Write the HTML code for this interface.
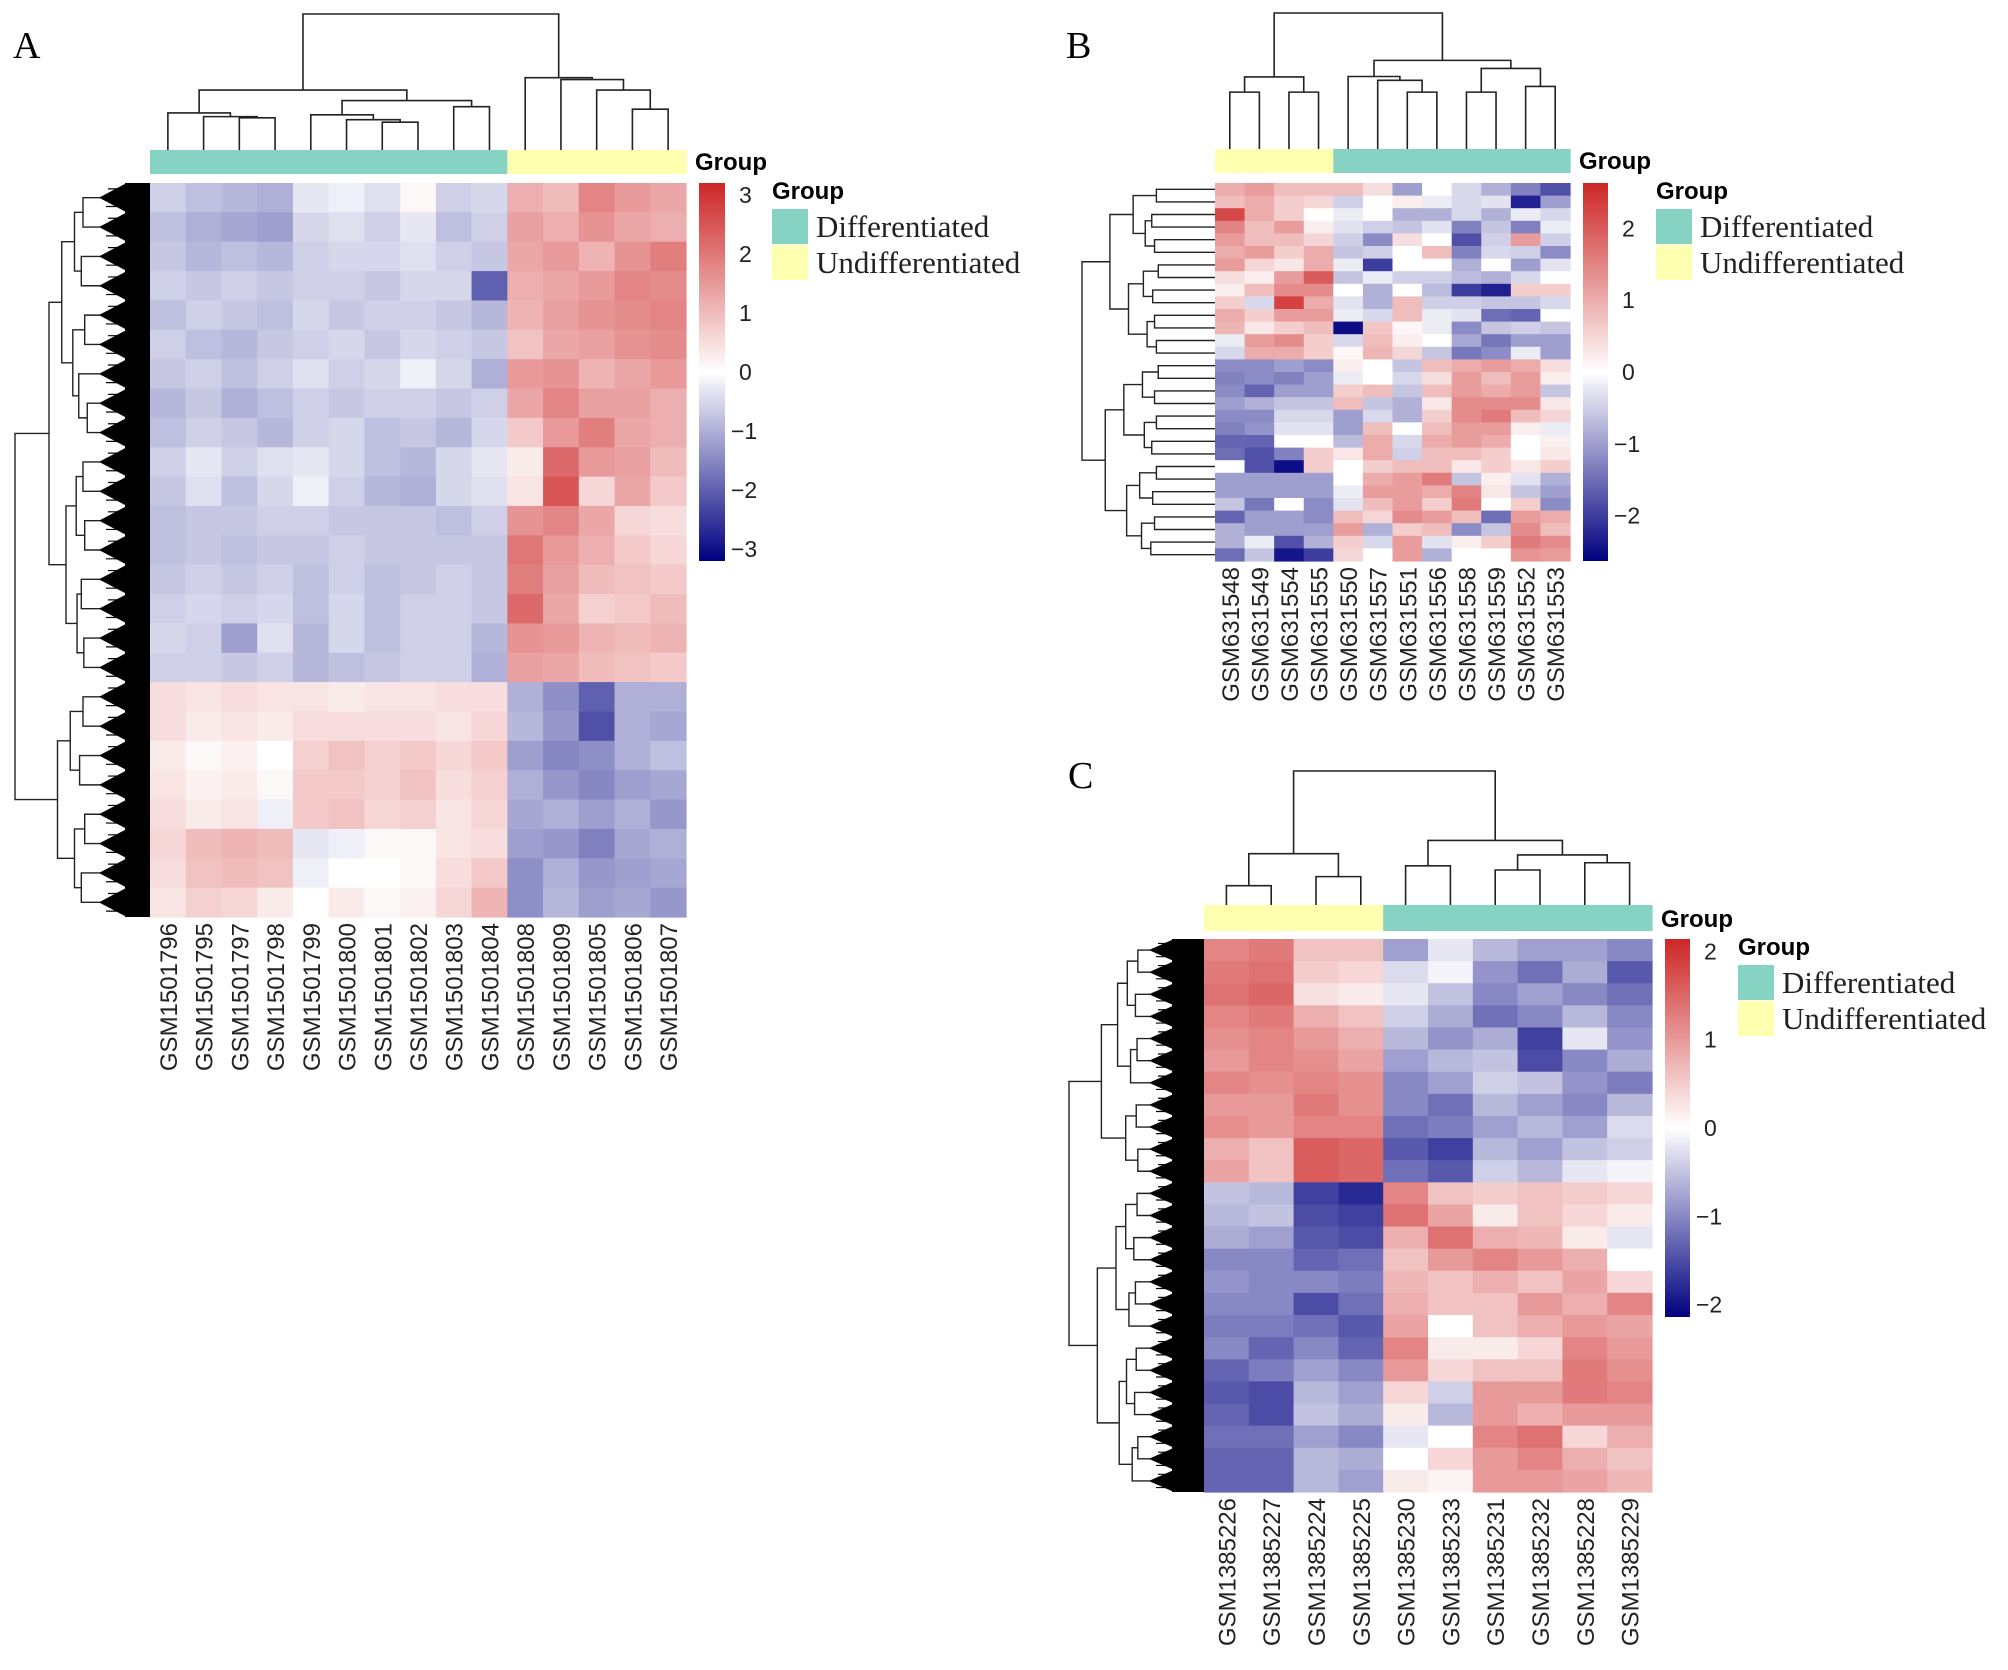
<!DOCTYPE html>
<html><head><meta charset="utf-8">
<style>
html,body{margin:0;padding:0;background:#fff;}
svg{display:block;}
.sans{font-family:"Liberation Sans",Arial,sans-serif;}
.serif{font-family:"Liberation Serif","Times New Roman",serif;}
</style></head>
<body>
<svg id="fig" width="2008" height="1670" viewBox="0 0 2008 1670" xmlns="http://www.w3.org/2000/svg">
<defs>
<linearGradient id="gradBar" x1="0" y1="0" x2="0" y2="1">
<stop offset="0" stop-color="#cd2626"/><stop offset="0.5" stop-color="#ffffff"/><stop offset="1" stop-color="#000080"/>
</linearGradient>
</defs>
<text class="serif" x="13" y="58" font-size="38">A</text>
<text class="serif" x="1066" y="58" font-size="38">B</text>
<text class="serif" x="1068" y="788" font-size="38">C</text>
</svg>
<script>
// ---------- Panel A data ----------
const colsA = ["GSM1501796","GSM1501795","GSM1501797","GSM1501798","GSM1501799","GSM1501800","GSM1501801","GSM1501802","GSM1501803","GSM1501804","GSM1501808","GSM1501809","GSM1501805","GSM1501806","GSM1501807"];
const groupA = ["D","D","D","D","D","D","D","D","D","D","U","U","U","U","U"];
const ticksA = [3,2,1,0,-1,-2,-3];
const valuesA = [
[-0.6,-0.8,-0.9,-1.0,-0.3,-0.2,-0.4,0.1,-0.6,-0.5,1.2,1.0,1.8,1.5,1.3],
[-0.8,-1.0,-1.1,-1.2,-0.5,-0.4,-0.6,-0.3,-0.8,-0.6,1.4,1.2,1.6,1.3,1.2],
[-0.7,-0.9,-0.8,-0.9,-0.6,-0.5,-0.5,-0.4,-0.6,-0.7,1.3,1.5,1.1,1.6,1.9],
[-0.6,-0.7,-0.6,-0.7,-0.6,-0.6,-0.7,-0.5,-0.5,-2.0,1.2,1.3,1.5,1.8,1.7],
[-0.8,-0.6,-0.7,-0.8,-0.5,-0.7,-0.6,-0.6,-0.7,-0.9,1.1,1.4,1.6,1.7,1.8],
[-0.6,-0.8,-0.9,-0.7,-0.6,-0.5,-0.7,-0.5,-0.6,-0.7,0.9,1.3,1.4,1.6,1.7],
[-0.7,-0.6,-0.8,-0.6,-0.4,-0.6,-0.5,-0.2,-0.5,-1.0,1.5,1.6,1.1,1.3,1.5],
[-0.9,-0.7,-1.0,-0.8,-0.6,-0.7,-0.6,-0.6,-0.7,-0.6,1.3,1.8,1.4,1.4,1.2],
[-0.8,-0.6,-0.7,-0.9,-0.6,-0.5,-0.8,-0.7,-0.9,-0.5,0.8,1.5,1.9,1.3,1.2],
[-0.6,-0.3,-0.6,-0.4,-0.3,-0.5,-0.8,-0.9,-0.5,-0.3,0.3,2.2,1.5,1.4,1.0],
[-0.7,-0.4,-0.8,-0.5,-0.2,-0.6,-0.9,-1.0,-0.5,-0.4,0.4,2.5,0.6,1.3,0.8],
[-0.8,-0.7,-0.7,-0.6,-0.6,-0.7,-0.7,-0.7,-0.8,-0.6,1.6,1.8,1.3,0.6,0.5],
[-0.8,-0.7,-0.8,-0.7,-0.7,-0.6,-0.7,-0.7,-0.7,-0.7,2.0,1.5,1.2,0.8,0.6],
[-0.7,-0.6,-0.7,-0.6,-0.8,-0.6,-0.8,-0.7,-0.6,-0.7,1.9,1.4,1.0,0.9,0.8],
[-0.6,-0.5,-0.6,-0.5,-0.8,-0.5,-0.8,-0.6,-0.6,-0.7,2.2,1.3,0.7,0.8,1.0],
[-0.5,-0.6,-1.2,-0.4,-0.9,-0.5,-0.8,-0.6,-0.6,-0.9,1.6,1.5,1.1,1.0,1.1],
[-0.6,-0.6,-0.7,-0.6,-0.9,-0.8,-0.7,-0.6,-0.6,-1.0,1.4,1.3,1.0,0.9,0.8],
[0.5,0.4,0.5,0.4,0.4,0.3,0.4,0.4,0.5,0.5,-1.0,-1.4,-2.0,-1.0,-1.0],
[0.5,0.3,0.4,0.3,0.5,0.5,0.5,0.5,0.4,0.6,-0.9,-1.3,-2.2,-1.0,-1.1],
[0.3,0.1,0.2,0.0,0.7,0.9,0.7,0.8,0.6,0.8,-1.2,-1.5,-1.4,-1.0,-0.8],
[0.4,0.2,0.3,0.1,0.8,0.8,0.7,0.9,0.5,0.7,-1.0,-1.3,-1.5,-1.2,-1.1],
[0.5,0.3,0.4,-0.2,0.8,0.9,0.6,0.7,0.4,0.6,-1.1,-1.0,-1.2,-1.0,-1.3],
[0.6,1.0,1.1,1.0,-0.3,-0.2,0.1,0.1,0.4,0.5,-1.2,-1.3,-1.6,-1.1,-1.0],
[0.5,0.9,1.0,0.9,-0.2,0.0,0.0,0.1,0.5,0.8,-1.4,-1.0,-1.3,-1.2,-1.1],
[0.4,0.7,0.6,0.3,0.0,0.3,0.1,0.2,0.6,1.1,-1.4,-0.9,-1.2,-1.1,-1.3]
];
const colTreeA = [[[0,[1,[2,3,52],54],60],[[4,[5,[6,7,45],49],57],[8,9,70],80],97],[10,[11,[12,[13,14,66],97],114],117],220];
const rowTreeA = [[[[[0,1,20],[2,3,22],30],[[4,5,18],[6,[7,8,15],25],32],45],[[[9,10,20],[11,12,18],28],[[13,14,22],[15,16,19],27],40],60],[[[17,18,20],[19,20,24],35],[[21,22,18],[23,24,22],30],50],100];

// ---------- Panel B data ----------
const colsB = ["GSM631548","GSM631549","GSM631554","GSM631555","GSM631550","GSM631557","GSM631551","GSM631556","GSM631558","GSM631559","GSM631552","GSM631553"];
const groupB = ["U","U","U","U","D","D","D","D","D","D","D","D"];
const ticksB = [2,1,0,-1,-2];
const valuesB = [
[1.0,1.2,0.8,0.8,0.8,0.4,-1.0,0.0,-0.4,-0.8,-1.3,-1.8],
[0.8,1.0,0.6,0.5,-0.5,0.0,0.2,-0.2,-0.4,-0.3,-2.3,-1.0],
[2.2,1.0,0.6,0.0,-0.2,0.0,-0.8,-0.8,-0.4,-0.8,-0.2,-0.4],
[1.5,0.8,1.2,0.2,-0.3,-0.5,-0.6,-0.3,-1.3,-0.6,-1.3,-0.2],
[1.2,0.8,0.8,0.5,-0.5,-1.2,0.4,0.0,-1.8,-0.5,1.2,-0.5],
[1.0,1.2,0.6,1.0,-0.6,-0.5,0.0,0.8,-1.3,-0.4,-0.5,-1.2],
[1.2,0.5,0.3,1.0,-0.2,-2.0,0.0,0.0,-0.8,0.0,-1.0,-0.3],
[0.4,0.2,1.2,2.0,-0.6,-0.2,-0.5,-0.5,-0.7,-0.8,-0.4,0.0],
[0.2,0.8,1.4,1.4,0.0,-0.8,0.0,-0.7,-2.0,-2.3,0.6,0.6],
[0.6,-0.4,2.3,1.0,-0.3,-0.8,0.8,-0.5,-0.5,-0.6,-0.6,-0.4],
[1.0,0.6,1.2,1.2,-0.2,-0.4,0.8,-0.2,-0.3,-1.5,-1.6,0.0],
[0.9,0.3,0.6,0.8,-2.5,0.7,0.1,-0.2,-1.2,-0.6,-0.5,-0.6],
[-0.2,1.2,1.4,0.6,-0.4,0.8,0.2,0.0,-0.9,-1.4,-1.0,-1.0],
[-0.4,1.0,1.0,0.6,0.1,0.9,0.5,-0.6,-1.4,-1.2,-0.2,-1.0],
[-1.2,-1.2,-1.0,-1.2,0.2,0.0,-0.6,0.8,1.0,1.2,1.0,0.4],
[-1.3,-1.2,-1.3,-1.0,-0.2,0.0,-0.4,0.4,1.2,0.8,1.2,0.2],
[-1.2,-1.6,-1.0,-1.0,0.6,0.8,-0.6,0.8,1.2,1.0,1.2,-0.6],
[-1.0,-0.8,-0.6,-0.6,0.8,-0.6,-0.8,0.3,1.4,1.4,1.4,0.3],
[-1.2,-1.2,-0.4,-0.4,-1.0,-0.4,-0.8,0.6,1.4,1.6,0.8,0.5],
[-1.3,-1.1,-0.3,-0.3,-1.0,0.8,0.0,0.8,1.2,1.2,0.2,-0.2],
[-1.6,-1.6,0.0,0.0,-0.7,1.0,-0.4,1.0,1.2,1.0,0.0,0.2],
[-1.5,-1.8,-1.3,0.6,0.3,1.0,-0.5,0.8,0.8,0.6,0.0,0.3],
[0.0,-1.8,-2.5,0.6,0.0,0.6,0.8,0.8,0.3,0.6,0.3,0.6],
[-1.0,-1.0,-1.0,-1.0,0.0,1.0,1.2,1.6,-0.6,0.2,-0.3,-0.8],
[-1.0,-1.0,-1.0,-1.0,-0.2,1.2,1.2,1.0,1.5,0.3,-0.6,-1.0],
[-0.6,-1.4,0.0,-1.2,-0.3,0.8,1.2,0.6,1.6,0.0,0.6,-1.2],
[-1.6,-1.0,-1.0,-1.2,0.8,0.5,1.4,1.2,0.8,-1.5,1.2,1.0],
[-0.8,-1.0,-1.0,-1.0,1.2,-0.8,0.6,0.8,-1.2,-0.6,1.4,0.8],
[-0.8,-0.2,-1.8,-0.8,0.6,-0.4,1.2,-0.3,0.2,0.6,1.6,1.4],
[-1.5,-0.6,-2.4,-2.0,0.5,0.0,1.2,-0.8,0.0,0.0,1.3,1.2]
];
const colTreeB = [[[0,1,120],[2,3,120],152],[[4,[5,[6,7,120],145],153],[[8,9,120],[10,11,132],170],187],287];
const rowTreeB = [[[[0,1,20],[[2,3,25],[4,5,22],32],45],[[[6,7,18],[8,9,24],34],[[10,11,22],[12,13,20],30],50],70],[[[[14,15,18],[16,17,22],35],[[18,19,20],[20,21,25],33],55],[[[22,23,20],[24,25,24],38],[[26,27,22],[28,29,26],36],52],75],100];

// ---------- Panel C data ----------
const colsC = ["GSM1385226","GSM1385227","GSM1385224","GSM1385225","GSM1385230","GSM1385233","GSM1385231","GSM1385232","GSM1385228","GSM1385229"];
const groupC = ["U","U","U","U","D","D","D","D","D","D"];
const ticksC = [2,1,0,-1,-2];
const valuesC = [
[1.2,1.3,0.6,0.6,-0.8,-0.2,-0.6,-0.8,-0.8,-1.0],
[1.3,1.4,0.5,0.4,-0.3,-0.1,-0.9,-1.2,-0.7,-1.4],
[1.4,1.5,0.3,0.2,-0.2,-0.5,-1.0,-0.8,-1.0,-1.2],
[1.2,1.3,0.8,0.6,-0.4,-0.7,-1.2,-1.0,-0.6,-1.0],
[1.1,1.2,1.0,0.8,-0.6,-0.9,-0.7,-1.6,-0.2,-0.9],
[1.0,1.2,1.1,0.9,-0.8,-0.6,-0.5,-1.5,-1.0,-0.7],
[1.2,1.1,1.2,1.1,-1.0,-0.8,-0.4,-0.5,-0.9,-1.1],
[1.0,1.0,1.3,1.1,-1.0,-1.2,-0.6,-0.8,-1.0,-0.6],
[1.1,1.0,1.2,1.2,-1.2,-1.1,-0.8,-0.6,-0.8,-0.3],
[0.8,0.6,1.6,1.5,-1.4,-1.6,-0.6,-0.8,-0.5,-0.4],
[0.9,0.6,1.6,1.5,-1.2,-1.4,-0.4,-0.6,-0.2,-0.1],
[-0.5,-0.6,-1.6,-1.8,1.2,0.6,0.5,0.6,0.5,0.4],
[-0.6,-0.5,-1.5,-1.6,1.4,0.9,0.2,0.6,0.4,0.2],
[-0.7,-0.8,-1.4,-1.5,0.8,1.4,0.8,0.7,0.2,-0.2],
[-1.0,-1.0,-1.3,-1.2,0.6,1.0,1.2,1.0,0.8,0.0],
[-0.9,-1.0,-1.0,-1.1,0.7,0.6,0.8,0.6,0.9,0.4],
[-1.0,-1.0,-1.5,-1.2,0.8,0.6,0.6,1.0,0.8,1.2],
[-1.1,-1.1,-1.2,-1.4,0.9,0.0,0.6,0.8,1.0,0.9],
[-1.0,-1.3,-1.0,-1.3,1.2,0.2,0.2,0.4,1.2,1.0],
[-1.3,-1.1,-0.8,-1.0,1.0,0.4,0.6,0.6,1.3,1.1],
[-1.4,-1.5,-0.6,-0.8,0.4,-0.4,1.0,1.0,1.3,1.2],
[-1.3,-1.5,-0.5,-0.7,0.2,-0.6,1.0,0.8,1.0,1.0],
[-1.2,-1.2,-0.8,-1.0,-0.2,0.0,1.2,1.4,0.4,0.8],
[-1.3,-1.3,-0.6,-0.7,0.0,0.4,1.0,1.2,0.8,0.6],
[-1.3,-1.3,-0.6,-0.8,0.2,0.1,1.0,1.0,0.9,0.7]
];
const colTreeC = [[[0,1,32],[2,3,47],85],[[4,5,65],[[6,7,58],[8,9,70],83],107],222];
const rowTreeC = [[[[[0,1,15],[2,3,18],28],[[4,5,16],6,24],40],[[7,8,17],[9,10,15],30],60],[[[[11,12,16],[13,14,20],30],[[15,16,18],17,26],42],[[[18,19,17],[20,21,19],29],[[22,23,15],24,22],38],65],100];

const legendLabels = ["Differentiated","Undifferentiated"];

// ---------- drawing ----------
const NS = "http://www.w3.org/2000/svg";
const svg = document.getElementById("fig");
const TEAL = "#86d3c3", YEL = "#ffffb0";
function mk(tag, attrs, parent){ const e=document.createElementNS(NS,tag); for(const k in attrs) e.setAttribute(k,attrs[k]); (parent||svg).appendChild(e); return e; }
function colorFor(v, max){
  let t=Math.max(-1,Math.min(1,v/max));
  let r,g,b;
  if(t>=0){ r=255+(205-255)*t; g=255+(38-255)*t; b=255+(38-255)*t; }
  else { const s=-t; r=255*(1-s); g=255*(1-s); b=255+(128-255)*s; }
  return "rgb("+Math.round(r)+","+Math.round(g)+","+Math.round(b)+")";
}
function fmtTick(t){ return t<0 ? "\u2212"+(-t) : String(t); }

function drawPanel(P){
  const g = mk("g",{});
  
  
  const nC=P.cols.length, nR=P.values.length;
  const cw=(P.x1-P.x0)/nC, rh=(P.y1-P.y0)/nR;
  const xc=i=>P.x0+cw*(i+0.5), yc=j=>P.y0+rh*(j+0.5);
  const cg = mk("g",{},g);
  
  
  P.values.forEach((row,j)=>row.forEach((v,i)=>{
    const r=mk("rect",{x:(P.x0+cw*i).toFixed(2),y:(P.y0+rh*j).toFixed(2),width:(cw+0.6).toFixed(2),height:(rh+0.6).toFixed(2),fill:colorFor(v,P.max)},cg);
    
    
  }));
  P.groups.forEach((gr,i)=>{
    const r=mk("rect",{x:(P.x0+cw*i).toFixed(2),y:P.ay0,width:(cw+0.6).toFixed(2),height:P.ay1-P.ay0,fill:gr==="D"?TEAL:YEL},g);
    
    
  });
  const al=mk("text",{x:P.x1+9,y:P.ay1-4,"font-size":24,"font-weight":"bold",class:"sans"},g);
  al.textContent="Group";
  
  
  P.cols.forEach((c,i)=>{
    const t=mk("text",{transform:"translate("+(xc(i)+9).toFixed(1)+","+(P.y1+6)+") rotate(-90)","text-anchor":"end","font-size":P.lfs,class:"sans",fill:"#222"},g);
    t.textContent=c;
    
    
  });
  const dg=mk("g",{stroke:"#222","stroke-width":1.6,fill:"none"},g);
  
  
  const cy=h=>P.cd1-(P.cd1-P.cd0)*h/P.cmax;
  function walkC(n){
    if(typeof n==="number") return [xc(n),0];
    const a=walkC(n[0]), b=walkC(n[1]), h=n[2];
    mk("path",{d:"M"+a[0]+","+cy(a[1])+"V"+cy(h)+"H"+b[0]+"V"+cy(b[1])},dg);
    return [(a[0]+b[0])/2,h];
  }
  walkC(P.ctree);
  const rg=mk("g",{stroke:"#222","stroke-width":1.4,fill:"none"},g);
  
  
  const rx=h=>P.rd1-(P.rd1-P.rd0)*h/P.rmax;
  function walkR(n){
    if(typeof n==="number") return [yc(n),0];
    const a=walkR(n[0]), b=walkR(n[1]), h=n[2];
    mk("path",{d:"M"+rx(a[1])+","+a[0]+"H"+rx(h)+"V"+b[0]+"H"+rx(b[1])},rg);
    return [(a[0]+b[0])/2,h];
  }
  walkR(P.rtree);
  if(P.black){
    const bk=mk("rect",{x:P.bk0,y:P.y0,width:P.x0-P.bk0,height:P.y1-P.y0,fill:"#000"},g);
    
    
    for(let j=0;j<nR;j++){
      const y=P.y0+rh*j;
      const p=mk("path",{d:"M"+P.rd1+","+(y+rh*0.5)+"L"+(P.bk0+1)+","+(y+1)+"V"+(y+rh-1)+"Z",fill:"#000",stroke:"#000","stroke-width":1},g);
      
      
      const q=mk("path",{d:"M"+(P.rd1+8)+","+(y+rh*0.2)+"H"+P.bk0+"M"+(P.rd1+6)+","+(y+rh*0.8)+"H"+P.bk0,stroke:"#000","stroke-width":1.2,fill:"none"},g);
      
      
    }
  } else {
    for(let j=0;j<nR;j++){ mk("path",{d:"M"+P.rd1+","+yc(j)+"H"+P.x0},rg); }
  }
  const cb=mk("rect",{x:P.bx,y:P.y0,width:P.bw,height:P.by1-P.y0,fill:"url(#gradBar)"},g);
  
  
  const bmid=(P.y0+P.by1)/2, unit=(P.by1-P.y0)/2/P.max;
  P.ticks.forEach(t=>{
    const y=bmid-t*unit;
    const tx=mk("text",{x:P.bx+P.bw+(t<0?6:14),y:y+8,"font-size":23,class:"sans",fill:"#222"},g);
    tx.textContent=fmtTick(t);
    
    
  });
  const lt=mk("text",{x:P.lx,y:P.ly+17,"font-size":24,"font-weight":"bold",class:"sans"},g);
  lt.textContent="Group";
  
  
  legendLabels.forEach((lab,k)=>{
    const y=P.ly+27+k*36;
    const sw=mk("rect",{x:P.lx,y:y,width:36,height:35,fill:k===0?TEAL:YEL},g);
    
    
    const tx=mk("text",{x:P.lx+44,y:y+28,"font-size":31,class:"serif",fill:"#222"},g);
    tx.textContent=lab;
    
    
  });
}

drawPanel({name:"panel-a",cols:colsA,groups:groupA,values:valuesA,ctree:colTreeA,rtree:rowTreeA,ticks:ticksA,
  x0:150,x1:686,y0:183,y1:917,max:3.2,ay0:150,ay1:174,cd0:14,cd1:150,cmax:220,rd0:15,rd1:100,rmax:100,black:true,bk0:125,
  bx:699,bw:26,by1:561,lx:772,ly:182,lfs:24});
drawPanel({name:"panel-b",cols:colsB,groups:groupB,values:valuesB,ctree:colTreeB,rtree:rowTreeB,ticks:ticksB,
  x0:1215,x1:1570,y0:183,y1:561,max:2.63,ay0:149,ay1:173,cd0:13,cd1:149,cmax:287,rd0:1082,rd1:1175,rmax:100,black:false,
  bx:1583,bw:25,by1:561,lx:1656,ly:182,lfs:24});
drawPanel({name:"panel-c",cols:colsC,groups:groupC,values:valuesC,ctree:colTreeC,rtree:rowTreeC,ticks:ticksC,
  x0:1204,x1:1652,y0:939,y1:1492,max:2.14,ay0:905,ay1:931,cd0:771,cd1:905,cmax:222,rd0:1069,rd1:1150,rmax:100,black:true,bk0:1172,
  bx:1665,bw:25,by1:1317,lx:1738,ly:938,lfs:24});
</script>
</body></html>
